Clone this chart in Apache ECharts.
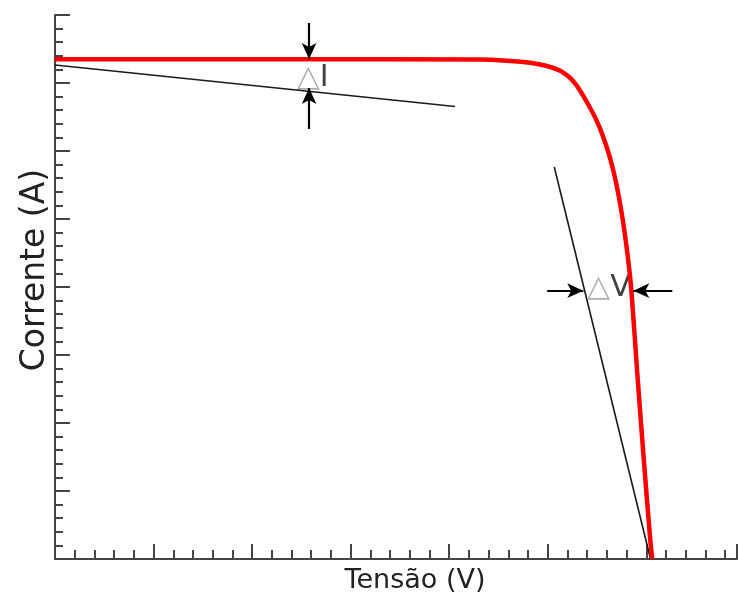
<!DOCTYPE html>
<html>
<head>
<meta charset="utf-8">
<script src="https://cdn.jsdelivr.net/npm/echarts@6/dist/echarts.min.js"></script>
<style>
html,body{margin:0;padding:0;background:#fff;}
#chart{width:738px;height:596px;}
</style>
</head>
<body>
<div id="chart"></div>
<script>
// I-V curve (axis units: one minor tick = 1 unit)
const curveV = [0, 12.44, 21.57, 22.94, 24.11, 24.96, 25.63, 26.14, 26.34, 26.56, 27.07, 27.58, 28.01, 28.34, 28.59, 28.82, 29.05, 29.24, 29.54, 29.86, 30.20, 30.30];
const curveI = [36.74, 36.74, 36.73, 36.64, 36.49, 36.25, 35.90, 35.37, 35.04, 34.62, 33.38, 31.91, 30.20, 28.48, 26.76, 24.80, 22.35, 19.78, 13.68, 7.52, 1.40, 0];
// tangent near short-circuit
const tangentIscV = [0, 20.30];
const tangentIscI = [36.32, 33.27];
// tangent near open-circuit
const tangentVocV = [25.33, 30.20];
const tangentVocI = [28.82, 0.07];
// arrows: [fromV, fromI, toV, toI]
const arrows = [
  [12.89, 39.41, 12.89, 36.76],
  [12.89, 31.62, 12.89, 34.63],
  [24.97, 19.73, 26.80, 19.73],
  [31.32, 19.73, 29.34, 19.73]
];
// annotation labels
const labelNames = ['I', 'V'];
const labelV = [13.07, 28.10];
const labelI = [35.37, 19.89];

const xMax = 34.6, yMax = 40;

const chart = echarts.init(document.getElementById('chart'), null, {renderer: 'canvas'});
const axisColor = '#444444';
const zip = (a, b) => a.map((v, i) => [v, b[i]]);

const option = {
  animation: false,
  backgroundColor: '#fff',
  grid: {left: 55, top: 15, right: 1, bottom: 37, containLabel: false, outerBoundsMode: 'none'},
  xAxis: {
    type: 'value', min: 0, max: xMax, interval: 5,
    name: 'Tensão (V)', nameLocation: 'middle', nameGap: 8,
    nameTextStyle: {fontFamily: 'DejaVu Sans', fontSize: 27, color: '#222', padding: [0, 0, 0, 38], verticalAlign: 'top'},
    axisLine: {show: true, onZero: false, lineStyle: {color: axisColor, width: 2}},
    axisTick: {show: true, inside: true, length: 15, lineStyle: {color: axisColor, width: 2}},
    minorTick: {show: true, splitNumber: 5, length: 9, lineStyle: {color: axisColor, width: 2}},
    axisLabel: {show: false},
    splitLine: {show: false}
  },
  yAxis: {
    type: 'value', min: 0, max: yMax, interval: 5,
    name: 'Corrente (A)', nameLocation: 'middle', nameGap: 3, nameRotate: 90,
    nameTextStyle: {fontFamily: 'DejaVu Sans', fontSize: 33, color: '#222', padding: [0, 0, 0, 34], verticalAlign: 'bottom'},
    axisLine: {show: true, onZero: false, lineStyle: {color: axisColor, width: 2}},
    axisTick: {show: true, inside: true, length: 15, lineStyle: {color: axisColor, width: 2}},
    minorTick: {show: true, splitNumber: 5, length: 8, lineStyle: {color: axisColor, width: 2}},
    axisLabel: {show: false},
    splitLine: {show: false}
  },
  series: [
    {
      type: 'line', data: zip(tangentIscV, tangentIscI), symbol: 'none', silent: true,
      lineStyle: {color: '#1a1a1a', width: 1.6}
    },
    {
      type: 'line', data: zip(tangentVocV, tangentVocI), symbol: 'none', silent: true,
      lineStyle: {color: '#1a1a1a', width: 1.6},
      markLine: {
        silent: true, animation: false,
        symbol: ['none', 'arrow'], symbolSize: [11, 16],
        label: {show: false},
        lineStyle: {color: '#000', width: 2.2, type: 'solid'},
        emphasis: {disabled: true},
        data: arrows.map(a => [{coord: [a[0], a[1]]}, {coord: [a[2], a[3]]}])
      }
    },
    {
      type: 'line', data: zip(curveV, curveI), symbol: 'none', silent: true,
      smooth: 0.25,
      lineStyle: {color: '#ff0000', width: 4.5}
    },
    {
      type: 'scatter', symbolSize: 0, silent: true,
      data: labelNames.map((n, i) => ({value: [labelV[i], labelI[i]], name: n})),
      label: {
        show: true, position: 'inside',
        formatter: p => '{t|△}{l|' + p.name + '}',
        rich: {
          t: {fontFamily: 'DejaVu Sans', fontSize: 30, color: '#9a9a9a'},
          l: {fontFamily: 'DejaVu Sans', fontSize: 30, color: '#111'}
        }
      }
    }
  ]
};
chart.setOption(option);
</script>
</body>
</html>
